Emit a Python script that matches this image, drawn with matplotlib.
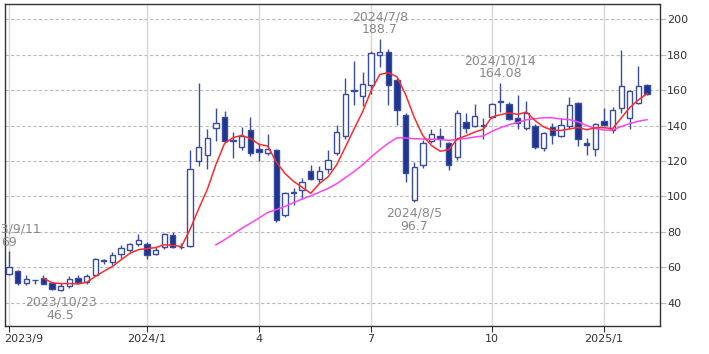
import matplotlib
matplotlib.use("Agg")
import matplotlib.pyplot as plt
import matplotlib.transforms as mtransforms
import numpy as np

# Weekly OHLC data (week index 0 = 2023/9/11)
opens = [56.3, 58, 51, 52.8, 54.3, 51, 47.3, 49.8, 54, 51.8,
         55.8, 63.5, 63, 67.4, 70, 73, 73.5, 67.7, 71.5, 78.5,
         71.5, 72, 120.2, 123.4, 138.8, 145, 131, 128, 137.5, 126.6,
         124.7, 126, 89.6, 101.8, 103.7, 114.5, 109.6, 115.3, 124.7, 134,
         159.5, 156.8, 162.8, 180, 181.5, 165.6, 146, 98, 117.8, 131,
         134, 130, 122, 142.2, 140, 140, 144.6, 153.5, 152, 144.4,
         138.8, 140, 127.2, 139, 134, 139.7, 152.8, 130, 126.8, 142.7,
         137.5, 149.7, 144, 152.5, 163]
highs = [69, 58.5, 55.5, 53.2, 56, 51.5, 51, 55, 56, 56.5,
         65.5, 65, 68.5, 72.5, 73.8, 78.7, 74.5, 71.7, 79.3, 80,
         73.6, 126, 163.8, 138, 149.7, 148, 136.5, 139.4, 144.6, 130,
         135, 126.6, 102.7, 105, 110.2, 118, 117.2, 126.2, 140.3, 167,
         176.5, 170.3, 182.2, 188.7, 183, 166.6, 147, 119.6, 131.8, 137.8,
         138.5, 130.5, 149, 147.2, 152, 144, 152.5, 164.08, 153, 157.2,
         154, 140.7, 136.5, 141.5, 144, 155.9, 153.4, 132.8, 141.2, 149.7,
         150.6, 182.5, 160, 173.5, 163.2]
lows = [55.8, 50, 50, 50.5, 50.5, 47.2, 46.5, 48.5, 50.7, 50.7,
        55.5, 62, 61.5, 65.5, 68.5, 72.3, 65, 66.8, 70.5, 71,
        70.2, 71.7, 117, 115.3, 131.4, 130.5, 121.5, 126, 122.8, 120,
        123.4, 85.8, 88.6, 95, 98.4, 109.3, 107.8, 113.4, 123.4, 132.2,
        151.5, 151, 157.7, 173, 151.5, 140.3, 108.3, 96.7, 115.9, 130.3,
        128, 115, 120.6, 135.6, 139.3, 132.2, 144, 147.8, 143, 137.8,
        137.5, 126.8, 125.8, 129.6, 133.3, 137.8, 128.5, 123.4, 122.8, 139.7,
        135.6, 147, 137.8, 152, 157]
closes = [60.5, 51.5, 53.5, 53, 50.8, 48, 49.3, 53.5, 52, 55.2,
          64.6, 64, 67, 70.8, 73, 75.3, 67, 69.9, 78.7, 71.5,
          71.8, 115.3, 128, 133.2, 141.6, 131.3, 132, 134, 124.7, 125,
          126.6, 87, 101.8, 102.3, 108.3, 109.6, 114.5, 120.6, 136.2, 157.6,
          160.3, 163.4, 181, 181.5, 162.8, 148.7, 113, 116.8, 130, 135.2,
          132.5, 117.5, 147.2, 138.8, 145.4, 140.5, 151.9, 154, 143.7, 141.2,
          147.2, 128, 136, 134.6, 140.3, 151.5, 132.2, 129.3, 140.7, 140.3,
          148.7, 162, 159.2, 162, 158]

tick_weeks = [0, 16, 29, 42, 56, 69]
tick_labels = ["2023/9", "2024/1", "4", "7", "10", "2025/1"]
y_ticks = [40, 60, 80, 100, 120, 140, 160, 180, 200]

# annotations: (week index, text, 'high' or 'low')
notes = [(0, "2023/9/11\n69", "high"),
         (6, "2023/10/23\n46.5", "low"),
         (43, "2024/7/8\n188.7", "high"),
         (47, "2024/8/5\n96.7", "low"),
         (57, "2024/10/14\n164.08", "high")]

ma_short = 5
ma_long = 25

o = np.array(opens); h = np.array(highs); l = np.array(lows); c = np.array(closes)
x = np.arange(len(c))

fig = plt.figure(figsize=(7.09, 3.54), dpi=100)
ax = fig.add_axes([5/709, 28/354, 655/709, 322/354])

edge = "#3a4c9e"
down_fill = "#1c3591"
w = 0.62

# grid
for t in y_ticks:
    ax.axhline(t, color="#bbbbbb", lw=0.8, ls=(0, (3, 2)), zorder=0)
for t in tick_weeks:
    ax.axvline(t, color="#d6d6d6", lw=1.0, zorder=0)

for i in range(len(c)):
    up = c[i] >= o[i]
    lo_b, hi_b = min(o[i], c[i]), max(o[i], c[i])
    ax.vlines(x[i], l[i], lo_b, color=edge, lw=1.0, zorder=2)
    ax.vlines(x[i], hi_b, h[i], color=edge, lw=1.0, zorder=2)
    height = max(hi_b - lo_b, 0.25)
    ax.add_patch(plt.Rectangle((x[i] - w/2, lo_b), w, height,
                               facecolor="white" if up else down_fill,
                               edgecolor=edge, lw=1.0, zorder=3))

def sma(v, n):
    out = np.full(len(v), np.nan)
    for k in range(n - 1, len(v)):
        out[k] = v[k - n + 1:k + 1].mean()
    return out

ax.plot(x, sma(c, ma_long), color="#ff44ee", lw=1.1, zorder=4)
ax.plot(x, sma(c, ma_short), color="#ff2a2a", lw=1.1, zorder=4)

for i, txt, kind in notes:
    if kind == "high":
        ax.annotate(txt, (x[i], h[i]), xytext=(0, 2), textcoords="offset points",
                    ha="center", va="bottom", fontsize=9, color="#888888",
                    linespacing=1.0, zorder=5, annotation_clip=False)
    else:
        ax.annotate(txt, (x[i], l[i]), xytext=(0, -3), textcoords="offset points",
                    ha="center", va="top", fontsize=9, color="#888888",
                    linespacing=1.0, zorder=5, annotation_clip=False)

ax.set_xlim(-0.46, 75.5)
ax.set_ylim(27.0, 208.5)
ax.yaxis.tick_right()
ax.set_yticks(y_ticks)
ax.set_yticklabels([str(t) for t in y_ticks])
ax.set_xticks(tick_weeks)
ax.set_xticklabels(tick_labels)
ax.tick_params(axis="y", length=4, width=0.8, color="#bbbbbb", pad=1,
               labelsize=8, labelcolor="#333333")
ax.tick_params(axis="x", length=4, width=0.8, color="#333333", pad=2,
               labelsize=8, labelcolor="#333333")
lab0 = ax.get_xticklabels()[0]
lab0.set_horizontalalignment("left")
lab0.set_transform(lab0.get_transform() + mtransforms.ScaledTranslation(-5/100, 0, fig.dpi_scale_trans))
for s in ax.spines.values():
    s.set_color("#333333")
    s.set_linewidth(1.0)

fig.savefig("out.png", dpi=100)
